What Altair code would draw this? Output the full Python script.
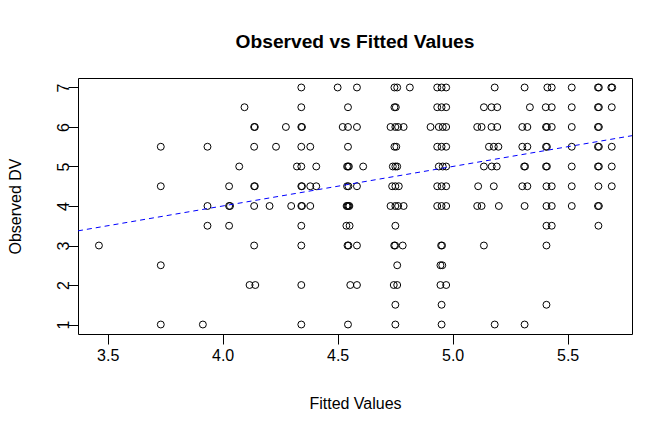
import altair as alt
import pandas as pd

# Fitted values (x) and observed DV (y)
fitted = [
    3.462,
    3.731, 3.731, 3.731, 3.731,
    3.914,
    3.934, 3.934, 3.934,
    4.028, 4.028, 4.032, 4.028,
    4.072,
    4.095,
    4.137, 4.140, 4.137, 4.137, 4.140, 4.137, 4.137,
    4.117, 4.142,
    4.204,
    4.232,
    4.275,
    4.298,
    4.342, 4.342, 4.342, 4.345, 4.342, 4.342, 4.342, 4.345, 4.342, 4.345, 4.342, 4.342, 4.342, 4.342,
    4.323,
    4.381, 4.381, 4.381,
    4.407, 4.407,
    # ~4.55 column
    4.500, 4.584,
    4.545,
    4.522, 4.545, 4.584,
    4.545,
    4.541, 4.545, 4.549, 4.611,
    4.541, 4.547, 4.584,
    4.539, 4.543, 4.547, 4.551,
    4.538, 4.552,
    4.543, 4.547, 4.584,
    4.555, 4.584,
    4.545,
    # ~4.75 column
    4.747, 4.759, 4.814,
    4.747, 4.753,
    4.730, 4.751, 4.763, 4.787,
    4.747, 4.755,
    4.740, 4.751, 4.759,
    4.737, 4.751, 4.766,
    4.730, 4.751, 4.763, 4.787,
    4.751,
    4.746, 4.750, 4.783,
    4.759,
    4.744, 4.759,
    4.751,
    4.751,
    # ~4.95 column
    4.933, 4.952, 4.972,
    4.933, 4.952, 4.972,
    4.904, 4.940, 4.957, 4.972,
    4.933, 4.952, 4.972,
    4.940, 4.957, 4.972,
    4.933, 4.952, 4.972,
    4.933, 4.952, 4.972,
    4.950, 4.954,
    4.947, 4.955,
    4.947, 4.972,
    4.952,
    4.952,
    # ~5.15 group
    5.183,
    5.136, 5.169, 5.194,
    5.107, 5.126, 5.169, 5.194,
    5.158, 5.179, 5.199,
    5.136, 5.170, 5.192,
    5.111, 5.179,
    5.107, 5.126, 5.201,
    5.136,
    5.183,
    # ~5.31 group
    5.313, 5.336,
    5.303, 5.325,
    5.303, 5.325,
    5.311, 5.315,
    5.303, 5.325,
    5.313,
    5.313,
    # ~5.41 group
    5.412, 5.431,
    5.405, 5.431,
    5.406, 5.410, 5.431,
    5.406, 5.410,
    5.406, 5.410,
    5.408, 5.431,
    5.408, 5.431,
    5.408, 5.431,
    5.408,
    5.408,
    # 5.52
    5.518, 5.518, 5.518, 5.518, 5.518, 5.518, 5.518,
    # 5.63
    5.632, 5.636, 5.632, 5.636, 5.632, 5.636, 5.632, 5.636, 5.632, 5.636, 5.634, 5.632, 5.636, 5.634,
    # 5.69
    5.690, 5.694, 5.692, 5.692, 5.692, 5.692,
]

observed = [
    3,
    5.5, 4.5, 2.5, 1,
    1,
    5.5, 4, 3.5,
    4.5, 4, 4, 3.5,
    5,
    6.5,
    6, 6, 5.5, 4.5, 4.5, 4, 3,
    2, 2,
    4,
    5.5,
    6,
    4,
    7, 6.5, 6, 6, 5.5, 5, 4.5, 4.5, 4, 4, 3.5, 3, 2, 1,
    5,
    5.5, 4.5, 4,
    5, 4.5,
    # ~4.55 column
    7, 7,
    6.5,
    6, 6, 6,
    5.5,
    5, 5, 5, 5,
    4.5, 4.5, 4.5,
    4, 4, 4, 4,
    3.5, 3.5,
    3, 3, 3,
    2, 2,
    1,
    # ~4.75 column
    7, 7, 7,
    6.5, 6.5,
    6, 6, 6, 6,
    5.5, 5.5,
    5, 5, 5,
    4.5, 4.5, 4.5,
    4, 4, 4, 4,
    3.5,
    3, 3, 3,
    2.5,
    2, 2,
    1.5,
    1,
    # ~4.95 column
    7, 7, 7,
    6.5, 6.5, 6.5,
    6, 6, 6, 6,
    5.5, 5.5, 5.5,
    5, 5, 5,
    4.5, 4.5, 4.5,
    4, 4, 4,
    3, 3,
    2.5, 2.5,
    2, 2,
    1.5,
    1,
    # ~5.15 group
    7,
    6.5, 6.5, 6.5,
    6, 6, 6, 6,
    5.5, 5.5, 5.5,
    5, 5, 5,
    4.5, 4.5,
    4, 4, 4,
    3,
    1,
    # ~5.31 group
    7, 6.5,
    6, 6,
    5.5, 5.5,
    5, 5,
    4.5, 4.5,
    4,
    1,
    # ~5.41 group
    7, 7,
    6.5, 6.5,
    6, 6, 6,
    5.5, 5.5,
    5, 5,
    4.5, 4.5,
    4, 4,
    3.5, 3.5,
    3,
    1.5,
    # 5.52
    7, 6.5, 6, 5.5, 5, 4.5, 4,
    # 5.63
    7, 7, 6.5, 6.5, 6, 6, 5.5, 5.5, 5, 5, 4.5, 4, 4, 3.5,
    # 5.69
    7, 7, 6.5, 5.5, 5, 4.5,
]

x_ticks = [3.5, 4.0, 4.5, 5.0, 5.5]
y_ticks = [1, 2, 3, 4, 5, 6, 7]
x_domain = [3.371, 5.78]
y_domain = [0.76, 7.24]
ab_intercept = 0.0
ab_slope = 1.0

FONT = "Liberation Sans"

pts = pd.DataFrame({"fitted": fitted, "observed": observed})
line_df = pd.DataFrame({
    "fitted": x_domain,
    "observed": [ab_intercept + ab_slope * v for v in x_domain],
})

xscale = alt.Scale(domain=x_domain, nice=False, zero=False)
yscale = alt.Scale(domain=y_domain, nice=False, zero=False)

xaxis = alt.Axis(
    values=x_ticks, format=".1f", title="Fitted Values",
    labelPadding=3, titleBaseline="alphabetic", titleY=74,
)
yaxis = alt.Axis(
    values=y_ticks, format="d", title="Observed DV",
    labelAngle=270, labelAlign="center", labelBaseline="alphabetic", labelPadding=0,
    titleAngle=270, titleBaseline="alphabetic", titleX=-58, titleY=128,
)

points = alt.Chart(pts).mark_point(
    shape="circle", filled=False, color="black", size=48, strokeWidth=1, opacity=1
).encode(
    x=alt.X("fitted:Q", scale=xscale, axis=xaxis),
    y=alt.Y("observed:Q", scale=yscale, axis=yaxis),
)

line = alt.Chart(line_df).mark_line(
    color="#0000FF", strokeDash=[5, 4], strokeWidth=1, clip=True
).encode(
    x=alt.X("fitted:Q", scale=xscale),
    y=alt.Y("observed:Q", scale=yscale),
)

chart = alt.layer(points, line).properties(
    width=554,
    height=256,
    title=alt.TitleParams(
        "Observed vs Fitted Values", font=FONT, fontSize=19.2, fontWeight="bold",
        color="black", anchor="middle", frame="group", baseline="alphabetic", offset=11,
    ),
    padding={"left": 70, "top": 70, "right": 32, "bottom": 90},
    autosize=alt.AutoSizeParams(type="none"),
).configure_view(
    stroke="black", strokeWidth=1
).configure_axis(
    domain=False, grid=False, ticks=True, tickSize=10, tickColor="black", tickWidth=1,
    labelFont=FONT, labelFontSize=16, labelColor="black",
    titleFont=FONT, titleFontSize=16, titleFontWeight="normal", titleColor="black",
)

chart.save("out.html", embed_options={"renderer": "svg", "actions": False})
